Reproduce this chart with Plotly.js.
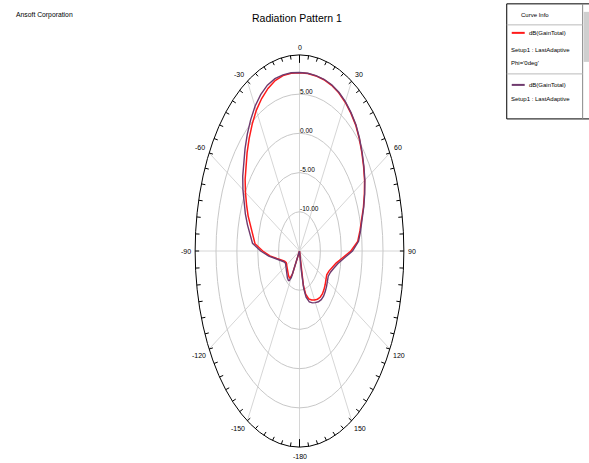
<!DOCTYPE html>
<html><head><meta charset="utf-8">
<script src="https://cdn.plot.ly/plotly-3.0.1.min.js"></script>
<style>html,body{margin:0;padding:0;background:#fff;}#chart{width:589px;height:463px;}</style>
</head><body><div id="chart"></div>
<script>
// ---- data (theta in degrees, gain in dB) ----
const thetaDeg = [-180,-175,-170,-165,-160,-155,-152,-150,-147,-145,-140,-135,-130,-125,-120,-115,-110,-105,-100,-95,-90,-85,-80,-75,-70,-65,-60,-55,-50,-45,-40,-35,-30,-25,-20,-15,-10,-5,0,5,10,15,20,25,30,35,40,45,50,55,60,65,70,75,80,85,90,95,100,105,110,115,120,125,130,135,140,145,150,155,160,165,168,170,172,175,180];
const gainPhi0 = [-22,-20,-19,-18,-17,-15.5,-13.0,-11.6,-10.9,-10.8,-10.9,-11.1,-11.3,-11.5,-11.6,-11.5,-11.2,-10.6,-9.5,-7.9,-6.2,-4.3,-3.7,-2.8,-1.9,-1.0,-0.05,0.9,1.8,2.75,3.75,4.75,5.7,6.45,7.05,7.5,7.7,7.75,7.72,7.7,7.66,7.6,7.48,7.25,6.9,6.45,5.95,5.25,4.5,3.75,3.0,2.15,1.3,0.5,-0.3,-1.0,-2.7,-4.7,-6.1,-6.9,-7.5,-7.8,-7.65,-7.5,-7.35,-7.25,-7.3,-7.5,-7.8,-8.1,-8.5,-9.3,-10.5,-13.0,-16.0,-19.0,-22];
const gainCurve2 = [-22,-20,-19,-18,-17,-15.2,-12.5,-11.1,-10.5,-10.4,-10.5,-10.8,-11.0,-11.2,-11.3,-11.3,-11.0,-10.4,-9.3,-7.6,-5.7,-3.7,-3.0,-2.1,-1.2,-0.3,0.65,1.6,2.5,3.45,4.45,5.4,6.3,7.0,7.5,7.75,7.8,7.8,7.76,7.74,7.71,7.66,7.55,7.33,6.98,6.53,6.03,5.33,4.58,3.83,3.08,2.23,1.38,0.6,-0.15,-0.8,-2.3,-4.3,-5.7,-6.5,-7.1,-7.4,-7.25,-7.1,-6.95,-6.85,-6.9,-7.1,-7.4,-7.7,-8.1,-8.9,-10.1,-12.5,-16.0,-19.0,-22];
const radialTicks = [-10, -5, 0, 5];
const radialTickLabels = ['-10.00', '-5.00', '0.00', '5.00'];
const angleTicks = [0, 30, 60, 90, 120, 150, 180, 210, 240, 270, 300, 330];
const angleTickLabels = ['0', '30', '60', '90', '120', '150', '-180', '-150', '-120', '-90', '-60', '-30'];
const rMin = -15, rMax = 10;
const curveNames = ['dB(GainTotal) Phi=\'0deg\'', 'dB(GainTotal)'];

// ---- geometry (pixel layout of the elliptical polar frame) ----
const W = 589, H = 463;
const cx = 299.5, cy = 251, ea = 104.5, eb = 196, pad = 1.03;
const span = rMax - rMin;
const sx = ea / span, sy = eb / span;
const mL = cx - ea * pad, mR = W - cx - ea * pad, mT = cy - eb * pad, mB = H - cy - eb * pad;
const pw = W - mL - mR, ph = H - mT - mB;
const px = X => (X - mL) / pw;
const py = Y => (H - mB - Y) / ph;
const rad = d => d * Math.PI / 180;
const FONT = 'Liberation Sans, Arial, sans-serif';

function toXY(thetas, gains) {
  const x = [], y = [];
  thetas.forEach((t, i) => {
    const rho = Math.max(gains[i] - rMin, 0);
    x.push(rho * Math.sin(rad(t)));
    y.push(rho * Math.cos(rad(t)));
  });
  return {x, y};
}

const c1 = toXY(thetaDeg, gainPhi0);
const c2 = toXY(thetaDeg, gainCurve2);

// tick marks on the outer frame, every 5 degrees, pointing inward
const tx = [], ty = [];
for (let d = 0; d < 360; d += 5) {
  const s = Math.sin(rad(d)), c = Math.cos(rad(d));
  let nx = s / ea, ny = c / eb; const nl = Math.hypot(nx, ny); nx /= nl; ny /= nl;
  const len = (d % 180 === 0) ? 8 : 4;
  const Px = ea * s, Py = eb * c;
  tx.push(Px / sx, (Px - len * nx) / sx, null);
  ty.push(Py / sy, (Py - len * ny) / sy, null);
}

const RED = '#ff1a1a', PURPLE = '#6f3a6e';
const traces = [
  {x: tx, y: ty, mode: 'lines', line: {color: '#000', width: 1}, hoverinfo: 'skip', showlegend: false},
  {x: c1.x, y: c1.y, mode: 'lines', name: curveNames[0], line: {color: RED, width: 1.5}, showlegend: false},
  {x: c2.x, y: c2.y, mode: 'lines', name: curveNames[1], line: {color: PURPLE, width: 1.4}, showlegend: false}
];

const shapes = [];
// spokes
angleTicks.forEach(d => {
  shapes.push({type: 'line', xref: 'x', yref: 'y', layer: 'below', x0: 0, y0: 0,
    x1: span * Math.sin(rad(d)), y1: span * Math.cos(rad(d)), line: {color: '#d6d6d6', width: 1}});
});
// rings
radialTicks.forEach(r => {
  const rho = r - rMin;
  shapes.push({type: 'circle', xref: 'x', yref: 'y', layer: 'below', x0: -rho, x1: rho, y0: -rho, y1: rho,
    line: {color: '#c8c8c8', width: 1}});
});
// outer frame
shapes.push({type: 'circle', xref: 'x', yref: 'y', x0: -span, x1: span, y0: -span, y1: span, line: {color: '#000', width: 1}});

// legend box ("Curve Info")
const LB = {x0: 507, x1: 600, y0: 4, y1: 119, sb: 583};
shapes.push({type: 'rect', xref: 'paper', yref: 'paper', x0: px(LB.x0), x1: px(LB.x1), y0: py(LB.y1), y1: py(LB.y0), line: {color: '#000', width: 1}, fillcolor: '#fff', layer: 'below'});
shapes.push({type: 'line', xref: 'paper', yref: 'paper', x0: px(LB.sb), x1: px(LB.sb), y0: py(LB.y1), y1: py(LB.y0), line: {color: '#888', width: 1}});
shapes.push({type: 'rect', xref: 'paper', yref: 'paper', x0: px(584), x1: px(590), y0: py(62), y1: py(12), line: {width: 0}, fillcolor: '#cfcfcf'});
shapes.push({type: 'line', xref: 'paper', yref: 'paper', x0: px(LB.x0), x1: px(LB.sb), y0: py(25), y1: py(25), line: {color: '#bbb', width: 1}});
shapes.push({type: 'line', xref: 'paper', yref: 'paper', x0: px(LB.x0), x1: px(LB.sb), y0: py(74), y1: py(74), line: {color: '#bbb', width: 1}});
shapes.push({type: 'line', xref: 'paper', yref: 'paper', x0: px(512), x1: px(525), y0: py(33), y1: py(33), line: {color: RED, width: 2}});
shapes.push({type: 'line', xref: 'paper', yref: 'paper', x0: px(512), x1: px(525), y0: py(85), y1: py(85), line: {color: PURPLE, width: 2}});

const annotations = [];
function txt(X, Y, text, size, xanchor) {
  annotations.push({xref: 'paper', yref: 'paper', x: px(X), y: py(Y), text, showarrow: false,
    xanchor: xanchor || 'left', yanchor: 'middle', font: {family: FONT, size, color: '#000'}, borderpad: 0});
}
txt(15, 15, 'Ansoft Corporation', 6.8);
txt(297, 18, 'Radiation Pattern 1', 10.5, 'center');
txt(535, 15, 'Curve Info', 6, 'center');
txt(528, 33, 'dB(GainTotal)', 6);
txt(510, 50, 'Setup1 : LastAdaptive', 6);
txt(510, 63, 'Phi=\'0deg\'', 6);
txt(528, 85, 'dB(GainTotal)', 6);
txt(510, 99, 'Setup1 : LastAdaptive', 6);

// angular labels
angleTicks.forEach((d, i) => {
  const s = Math.sin(rad(d)), c = Math.cos(rad(d));
  let nx = s / ea, ny = c / eb; const nl = Math.hypot(nx, ny); nx /= nl; ny /= nl;
  const g = c < -0.2 ? 5 : 3;
  annotations.push({xref: 'x', yref: 'y', x: span * s, y: span * c, text: angleTickLabels[i], showarrow: false,
    xanchor: s > 0.2 ? 'left' : (s < -0.2 ? 'right' : 'center'),
    yanchor: c > 0.2 ? 'bottom' : (c < -0.2 ? 'top' : 'middle'),
    xshift: g * nx * (c < -0.2 ? 0.4 : 1), yshift: g * ny, borderpad: 0,
    font: {family: FONT, size: 7, color: '#000'}});
});
// radial labels
radialTicks.forEach((r, i) => {
  annotations.push({xref: 'x', yref: 'y', x: 0, y: r - rMin, text: radialTickLabels[i], showarrow: false,
    xanchor: 'left', yanchor: 'middle', yshift: 3, xshift: -1, borderpad: 0,
    font: {family: FONT, size: 6.5, color: '#000'}});
});

const layout = {
  width: W, height: H, paper_bgcolor: '#fff', plot_bgcolor: '#fff',
  margin: {l: mL, r: mR, t: mT, b: mB, pad: 0, autoexpand: false},
  xaxis: {range: [-span * pad, span * pad], visible: false, fixedrange: true},
  yaxis: {range: [-span * pad, span * pad], visible: false, fixedrange: true},
  showlegend: false, shapes, annotations, font: {family: FONT}
};
Plotly.newPlot('chart', traces, layout, {staticPlot: true});
</script></body></html>
